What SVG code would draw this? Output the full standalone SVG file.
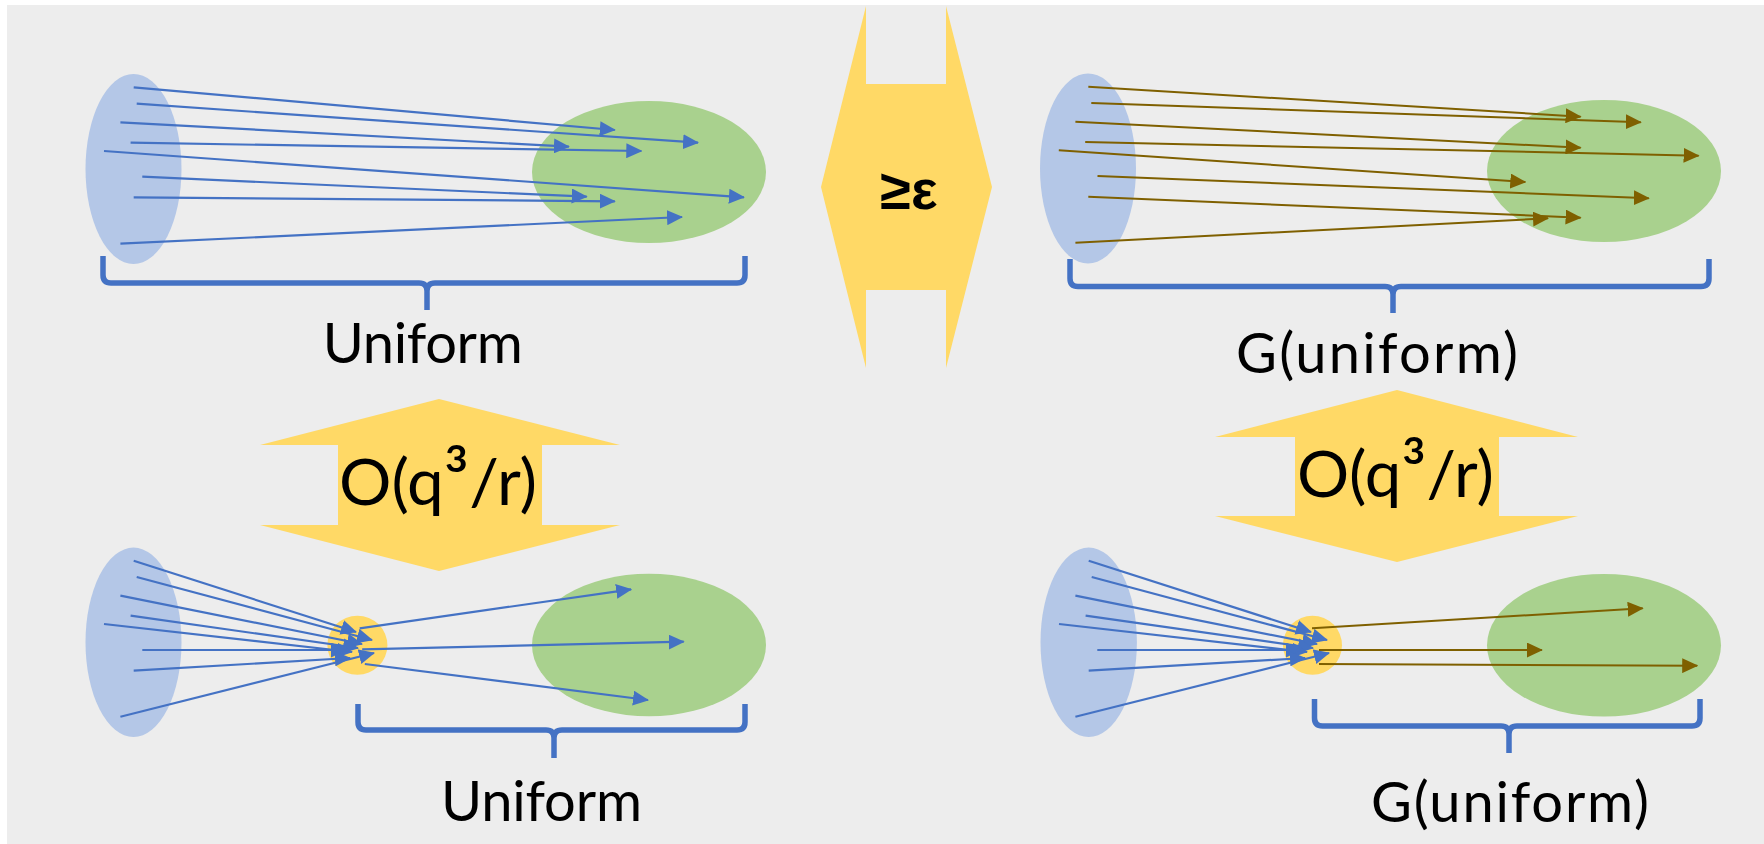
<svg xmlns="http://www.w3.org/2000/svg" width="1764" height="844" viewBox="0 0 1764 844">
<defs>
<marker id="ab" viewBox="0 0 16 15" refX="15" refY="7.5" markerWidth="16" markerHeight="15" markerUnits="userSpaceOnUse" orient="auto"><path d="M0,0 L16,7.5 L0,15 z" fill="#4472c4"/></marker>
<marker id="ao" viewBox="0 0 16 15" refX="15" refY="7.5" markerWidth="16" markerHeight="15" markerUnits="userSpaceOnUse" orient="auto"><path d="M0,0 L16,7.5 L0,15 z" fill="#7f6000"/></marker>
</defs>
<style>
.src{fill:#b4c7e7}
.dst{fill:#a9d18e}
.hub{fill:#ffd966}
.yel{fill:#ffd966}
.br{fill:none;stroke:#4472c4;stroke-width:5.5}
.cb{stroke:#4472c4;stroke-width:2.2;fill:none;marker-end:url(#ab)}
.co{stroke:#7f6000;stroke-width:2;fill:none;marker-end:url(#ao)}
.lbl{font-family:Lato,"Open Sans",sans-serif;font-size:56px;fill:#000;text-anchor:middle}
.math{font-family:Lato,"Open Sans",sans-serif;font-size:64px;fill:#000;text-anchor:middle}
.sup{font-size:74px}
.eps{font-family:"Liberation Sans",sans-serif;font-size:56px;font-weight:bold;fill:#000;text-anchor:middle}
</style>
<rect x="0" y="0" width="1764" height="844" fill="#ffffff"/>
<rect x="7" y="5" width="1757" height="839" fill="#ededed"/>

<g id="tl-source"><ellipse class="src" cx="133.5" cy="169" rx="48" ry="95"/></g>
<g id="tl-target"><ellipse class="dst" cx="649" cy="172" rx="117" ry="71"/></g>
<g id="tr-source"><ellipse class="src" cx="1088" cy="168.5" rx="48" ry="95"/></g>
<g id="tr-target"><ellipse class="dst" cx="1604" cy="171" rx="117" ry="71"/></g>
<g id="bl-source"><ellipse class="src" cx="133.5" cy="642.3" rx="48" ry="94.7"/></g>
<g id="bl-hub"><ellipse class="hub" cx="357.4" cy="645.2" rx="30" ry="29.5"/></g>
<g id="bl-target"><ellipse class="dst" cx="649" cy="645" rx="117" ry="71.3"/></g>
<g id="br-source"><ellipse class="src" cx="1088.7" cy="642.3" rx="48.2" ry="94.7"/></g>
<g id="br-hub"><ellipse class="hub" cx="1312.5" cy="645.2" rx="29.5" ry="29.5"/></g>
<g id="br-target"><ellipse class="dst" cx="1604" cy="645.3" rx="117" ry="71.3"/></g>

<g id="eps-arrow">
<polygon class="yel" points="821,187 866,6 866,84 946,84 946,6 992,187 946,368 946,290 866,290 866,368"/>
<text class="eps" x="909" y="209">≥ε</text>
</g>
<g id="left-cost-arrow">
<polygon class="yel" points="439,399 620,445 542,445 542,525 620,525 439,571 260,525 338,525 338,445 260,445"/>
<text class="math" x="438" y="505" textLength="198" lengthAdjust="spacingAndGlyphs">O(q<tspan class="sup">³</tspan>/r)</text>
</g>
<g id="right-cost-arrow">
<polygon class="yel" points="1397,390 1578,437 1499,437 1499,516 1578,516 1397,562 1215,516 1295,516 1295,437 1215,437"/>
<text class="math" x="1395.4" y="496.7" textLength="197" lengthAdjust="spacingAndGlyphs">O(q<tspan class="sup">³</tspan>/r)</text>
</g>

<g id="connectors">
<path class="cb" d="M133.7,87.3 L614.8,130"/>
<path class="cb" d="M136.7,103.7 L698,142.7"/>
<path class="cb" d="M120.4,122.3 L568.9,146.7"/>
<path class="cb" d="M130.6,142.7 L641.3,151"/>
<path class="cb" d="M104,151 L743.9,197.3"/>
<path class="cb" d="M142.3,176.7 L586.7,196.7"/>
<path class="cb" d="M133.7,197.3 L614.8,201.3"/>
<path class="cb" d="M120.4,243.7 L682,217"/>

<path class="co" d="M1088.3,86.7 L1580.6,116.7"/>
<path class="co" d="M1091.3,103 L1640.8,122.3"/>
<path class="co" d="M1075.4,121.7 L1580.6,147.7"/>
<path class="co" d="M1085.2,142 L1698.6,155.7"/>
<path class="co" d="M1058.8,150.3 L1525.3,182"/>
<path class="co" d="M1097.5,176 L1648.8,198.3"/>
<path class="co" d="M1088.3,196.7 L1580.6,217.7"/>
<path class="co" d="M1075.4,242.7 L1548,218.3"/>

<path class="cb" d="M133.7,560.7 L356,632"/>
<path class="cb" d="M136.7,577 L372,640"/>
<path class="cb" d="M120.4,595.7 L362,644"/>
<path class="cb" d="M130.6,615.7 L358,648"/>
<path class="cb" d="M104,624 L352,652"/>
<path class="cb" d="M142.3,650 L346,650"/>
<path class="cb" d="M133.7,670.7 L350,658"/>
<path class="cb" d="M120.4,716.7 L374,653"/>
<path class="cb" d="M359.7,628.3 L631.1,589.3"/>
<path class="cb" d="M362.2,649.3 L683.7,641.7"/>
<path class="cb" d="M364.8,664 L648,700"/>

<path class="cb" d="M1088.7,560.7 L1311,632"/>
<path class="cb" d="M1091.7,577 L1327,640"/>
<path class="cb" d="M1075.4,595.7 L1317,644"/>
<path class="cb" d="M1085.6,615.7 L1313,648"/>
<path class="cb" d="M1059,624 L1307,652"/>
<path class="cb" d="M1097.3,650 L1301,650"/>
<path class="cb" d="M1088.7,670.7 L1305,658"/>
<path class="cb" d="M1075.4,716.7 L1329,653"/>
<path class="co" d="M1312,628.3 L1642.7,608.3"/>
<path class="co" d="M1319,650 L1541.9,650"/>
<path class="co" d="M1319,664 L1697.2,665.7"/>
</g>

<g id="tl-brace"><path class="br" d="M103,256 V275 Q103,283 111,283 H419 Q427,283 427,291 V310 M427,291 Q427,283 435,283 H737 Q745,283 745,275 V256"/></g>
<g id="tr-brace"><path class="br" d="M1070,259 V278.5 Q1070,286.5 1078,286.5 H1385 Q1393,286.5 1393,294.5 V313 M1393,294.5 Q1393,286.5 1401,286.5 H1701 Q1709,286.5 1709,278.5 V259"/></g>
<g id="bl-brace"><path class="br" d="M358,704 V722 Q358,730 366,730 H546 Q554,730 554,738 V758 M554,738 Q554,730 562,730 H737 Q745,730 745,722 V704"/></g>
<g id="br-brace"><path class="br" d="M1314.5,699 V718 Q1314.5,726 1322.5,726 H1501 Q1509,726 1509,734 V753 M1509,734 Q1509,726 1517,726 H1692 Q1700,726 1700,718 V699"/></g>

<g id="labels">
<text class="lbl" x="422.7" y="362.7" textLength="200">Uniform</text>
<text class="lbl" x="1377" y="373.3" textLength="282">G(uniform)</text>
<text class="lbl" x="541.5" y="820.7" textLength="201">Uniform</text>
<text class="lbl" x="1510" y="821.7" textLength="278">G(uniform)</text>
</g>
</svg>
